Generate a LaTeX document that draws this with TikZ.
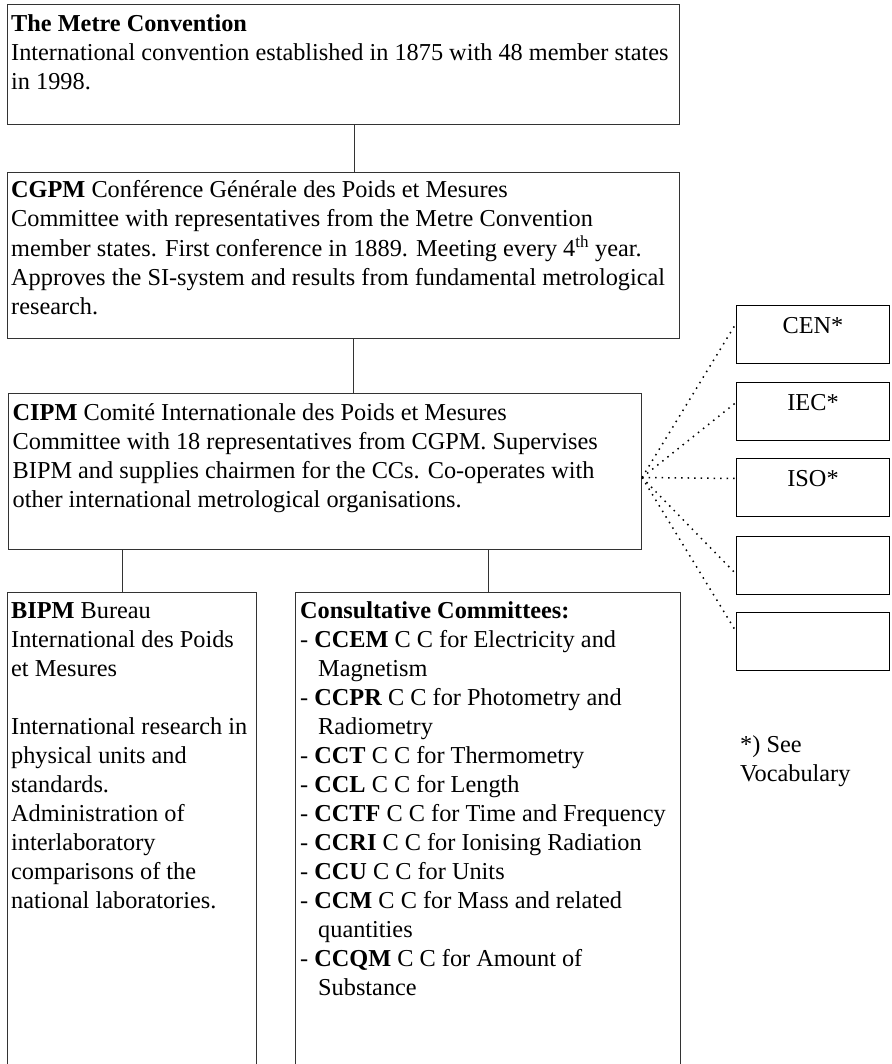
\documentclass[tikz,border=0pt]{standalone}
\usepackage{fontspec}
\setmainfont{Liberation Serif}
\usepackage{tikz}
\usetikzlibrary{positioning, calc}
\colorlet{BoxLine}{black!80}
\newcommand{\stack}[1]{\begin{tabular}[t]{@{}l@{}}#1\end{tabular}}
\newcommand{\ccitem}[2]{- \textbf{#1} #2}
\newcommand{\ccgap}{\hspace*{18pt}}

\begin{document}
\begin{tikzpicture}[x=1pt, y=-1pt, font=\fontsize{24.3}{29}\selectfont,
    orgbox/.style={draw=BoxLine, line width=1pt, anchor=north west, inner sep=0pt},
    orgtext/.style={anchor=base west, inner sep=0pt},
    sidebox/.style={draw=black, line width=1pt, anchor=north west, inner sep=0pt,
      minimum width=153pt, text height=28pt, text depth=30pt},
    conn/.style={draw=BoxLine, line width=1pt},
    link/.style={line width=1.5pt, dash pattern=on 1.5pt off 5pt}]
  \useasboundingbox (0,0) rectangle (891,1064);

  \node[orgbox, minimum width=672pt, minimum height=120pt] (metre) at (7,4) {};
  \node[orgbox, minimum width=672pt, minimum height=166pt] (cgpm) at (7,172) {};
  \node[orgbox, minimum width=633pt, minimum height=156pt] (cipm) at (8,393) {};
  \node[orgbox, minimum width=249pt, minimum height=490pt] (bipm) at (7,592) {};
  \node[orgbox, minimum width=385pt, minimum height=490pt] (cc) at (295,592) {};

  \node[orgtext] (metretext) at ([xshift=4pt, yshift=-28pt]metre.north west) {\stack{%
    \textbf{The Metre Convention}\\
    International convention established in 1875 with 48 member states\\
    in 1998.}};
  \node[orgtext] (cgpmtext) at ([xshift=4pt, yshift=-26pt]cgpm.north west) {\stack{%
    \textbf{CGPM} Conférence Générale des Poids et Mesures\\
    Committee with representatives from the Metre Convention\\
    member states. First conference in 1889. Meeting every 4\textsuperscript{th} year.\\
    Approves the SI-system and results from fundamental metrological\\
    research.}};
  \node[orgtext] (cipmtext) at ([xshift=4.5pt, yshift=-27pt]cipm.north west) {\stack{%
    \textbf{CIPM} Comité Internationale des Poids et Mesures\\
    Committee with 18 representatives from CGPM. Supervises\\
    BIPM and supplies chairmen for the CCs. Co-operates with\\
    other international metrological organisations.}};
  \node[orgtext] (bipmtext) at ([xshift=4pt, yshift=-26pt]bipm.north west) {\stack{%
    \textbf{BIPM} Bureau\\
    International des Poids\\
    et Mesures\\
    \\
    International research in\\
    physical units and\\
    standards.\\
    Administration of\\
    interlaboratory\\
    comparisons of the\\
    national laboratories.}};
  \node[orgtext] (cctext) at ([xshift=5pt, yshift=-26pt]cc.north west) {\stack{%
    \textbf{Consultative Committees:}\\
    \ccitem{CCEM}{C C for Electricity and}\\
    \ccgap Magnetism\\
    \ccitem{CCPR}{C C for Photometry and}\\
    \ccgap Radiometry\\
    \ccitem{CCT}{C C for Thermometry}\\
    \ccitem{CCL}{C C for Length}\\
    \ccitem{CCTF}{C C for Time and Frequency}\\
    \ccitem{CCRI}{C C for Ionising Radiation}\\
    \ccitem{CCU}{C C for Units}\\
    \ccitem{CCM}{C C for Mass and related}\\
    \ccgap quantities\\
    \ccitem{CCQM}{C C for Amount of}\\
    \ccgap Substance}};

  \draw[conn] ([xshift=11pt]metre.south) -- ([xshift=11pt]metre.south |- cgpm.north);
  \draw[conn] ([xshift=10pt]cgpm.south) -- ([xshift=10pt]cgpm.south |- cipm.north);
  \draw[conn] ([xshift=-9.5pt]bipm.north |- cipm.south) -- ([xshift=-9.5pt]bipm.north);
  \draw[conn] (cc.north |- cipm.south) -- (cc.north);

  \foreach \n/\lab/\y in {cen/CEN*/305, iec/IEC*/382, iso/ISO*/458, blanka//536, blankb//612}
    \node[sidebox] (\n) at (736,\y) {\lab};

  \coordinate (hub) at ([yshift=-6pt]cipm.east);
  \foreach \n/\dy in {cen/11, iec/9, iso/9, blanka/-8.5, blankb/10}
    \draw[link] (hub) -- ([yshift=\dy pt]\n.west);

  \node[orgtext] (note) at (740,752) {\stack{*) See\\Vocabulary}};
\end{tikzpicture}
\end{document}
